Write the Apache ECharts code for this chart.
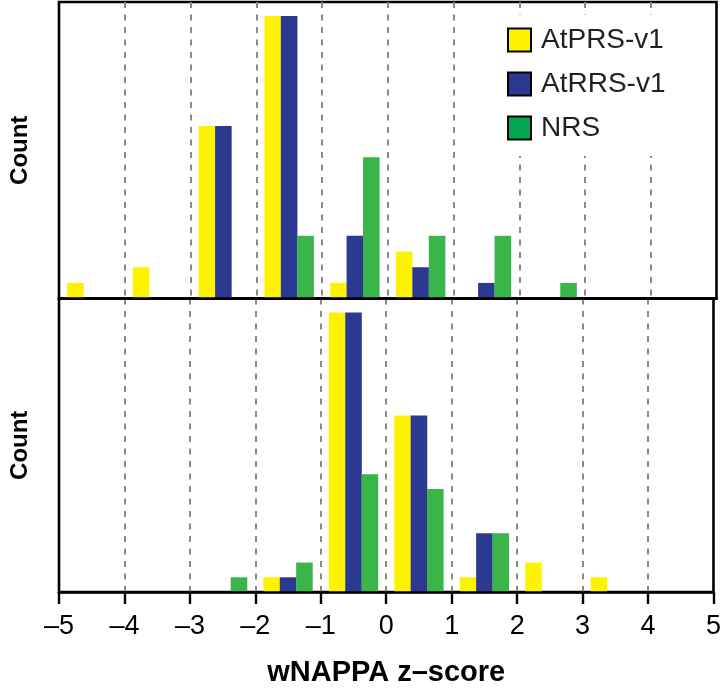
<!DOCTYPE html>
<html>
<head>
<meta charset="utf-8">
<script src="https://cdn.jsdelivr.net/npm/echarts@6/dist/echarts.min.js"></script>
<style>
  html, body { margin: 0; padding: 0; background: #fff; }
  #chart { width: 724px; height: 688px; }
</style>
</head>
<body>
<div id="chart"></div>
<script>
// bin centres of the z-score histogram (width 1)
const bins = [-4.5, -3.5, -2.5, -1.5, -0.5, 0.5, 1.5, 2.5, 3.5, 4.5];
const tickLabels = ['–5', '–4', '–3', '–2', '–1', '0', '1', '2', '3', '4', '5'];
const names = ['AtPRS-v1', 'AtRRS-v1', 'NRS'];

// top panel counts
const topPRS = [1, 2, 11, 18, 1, 3, 0, 0, 0, 0];
const topRRS = [0, 0, 11, 18, 4, 2, 1, 0, 0, 0];
const topNRS = [0, 0, 0, 4, 9, 4, 4, 1, 0, 0];
// bottom panel counts
const botPRS = [0, 0, 0, 1, 19, 12, 1, 2, 1, 0];
const botRRS = [0, 0, 0, 1, 19, 12, 4, 0, 0, 0];
const botNRS = [0, 0, 1, 2, 8, 7, 4, 0, 0, 0];

const barCol = ['#FFF200', '#2B3990', '#39B54A'];
const keyCol = ['#FFF200', '#2B3990', '#00A651'];
const dodge = [-0.25, 0, 0.25];
const font = "'Liberation Sans', Arial, Helvetica, sans-serif";

const W = 724, left = 53.5, right = 7.5;
const barW = (W - left - right) / 10 * 0.25;

function pts(arr, k) {
    return bins.map((b, i) => [b + dodge[k], arr[i]]).filter(p => p[1] > 0);
}

const xBase = {
    type: 'value', min: -5, max: 5, interval: 1, z: 5,
    axisLine: { show: true, onZero: false, lineStyle: { color: '#000', width: 2.6 } },
    splitLine: { show: true, showMinLine: false, showMaxLine: false,
        lineStyle: { color: '#8a8a8a', width: 2, type: [6, 6.5] } },
    axisTick: { show: false }, axisLabel: { show: false }
};

const yBase = (mx) => ({
    type: 'value', min: 0, max: mx * 1.05,
    name: 'Count', nameLocation: 'middle', nameGap: 27, nameRotate: 90,
    nameTextStyle: { fontFamily: font, fontWeight: 'bold', fontSize: 24, color: '#000' },
    axisLine: { show: false }, axisTick: { show: false }, axisLabel: { show: false }, splitLine: { show: false }
});

const panels = [[topPRS, topRRS, topNRS], [botPRS, botRRS, botNRS]];
const series = [];
panels.forEach((p, g) => p.forEach((arr, k) => series.push({
    name: names[k], type: 'bar', xAxisIndex: g, yAxisIndex: g,
    data: pts(arr, k), barWidth: barW, barGap: '-100%', z: 2,
    itemStyle: { color: barCol[k] }, emphasis: { disabled: true }
})));

echarts.init(document.getElementById('chart')).setOption({
    animation: false,
    grid: [
        { left: left, right: right, top: 2, height: 296.6, show: true, borderColor: '#000', borderWidth: 2.6 },
        { left: left, right: right, top: 298.6, bottom: 92.5, show: true, borderColor: '#000', borderWidth: 2.6 }
    ],
    xAxis: [
        Object.assign({}, xBase, { gridIndex: 0 }),
        Object.assign({}, xBase, {
            gridIndex: 1,
            axisTick: { show: true, length: 12, lineStyle: { color: '#000', width: 2.4 } },
            axisLabel: { show: true, margin: 21, fontFamily: font, fontSize: 27, color: '#000',
                formatter: v => tickLabels[Math.round(v) + 5] },
            name: 'wNAPPA z–score', nameLocation: 'middle', nameGap: 66,
            nameTextStyle: { fontFamily: font, fontWeight: 'bold', fontSize: 29, color: '#000' }
        })
    ],
    yAxis: [
        Object.assign({}, yBase(Math.max(...topPRS, ...topRRS, ...topNRS)), { gridIndex: 0 }),
        Object.assign({}, yBase(Math.max(...botPRS, ...botRRS, ...botNRS)), { gridIndex: 1 })
    ],
    legend: {
        orient: 'vertical', left: 495, top: 15, z: 10,
        padding: [11, 40, 14, 12], backgroundColor: '#fff',
        icon: 'rect', itemWidth: 23, itemHeight: 23, itemGap: 16,
        itemStyle: { borderColor: '#000', borderWidth: 2 },
        textStyle: { fontFamily: font, fontSize: 28, color: '#231F20', lineHeight: 23, padding: [0, 0, 0, 5] },
        data: names.map((n, k) => ({ name: n, itemStyle: { color: keyCol[k] } }))
    },
    series: series
});
</script>
</body>
</html>
